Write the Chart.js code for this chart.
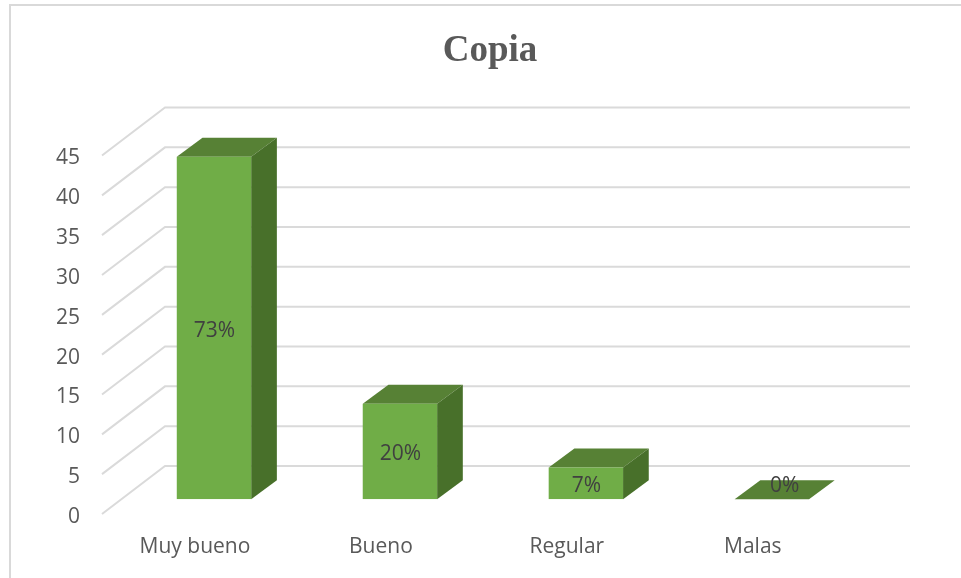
<!DOCTYPE html>
<html>
<head>
<meta charset="utf-8">
<title>Copia</title>
<script src="https://cdn.jsdelivr.net/npm/chart.js@4"></script>
<style>
html,body{margin:0;padding:0;background:#fff;overflow:hidden;width:961px;height:578px}
#marco{position:absolute;left:9px;top:4px;width:1000px;height:700px;border:2px solid #d9d9d9}
#grafico{position:absolute;left:0;top:0}
</style>
</head>
<body>
<div id="marco"><canvas id="grafico" width="958" height="572" style="width:958px;height:572px"></canvas></div>
<script>
const categorias=['Muy bueno','Bueno','Regular','Malas'];
const valores=[43,12,4,0];
const porcentajes=['73%','20%','7%','0%'];
const ticksY=[0,5,10,15,20,25,30,35,40,45];

const fuente='"Open Sans", sans-serif';

// profundidad del efecto 3D
const pared={dx:63,dy:48,finX:899};
const plano=14.7;
const barra3d={dx:25.7,dy:19};

function cara(ctx,puntos,color){
  ctx.fillStyle=color;
  ctx.beginPath();
  puntos.forEach((p,i)=>i?ctx.lineTo(p[0],p[1]):ctx.moveTo(p[0],p[1]));
  ctx.closePath();
  ctx.fill();
}

const efecto3d={
  id:'efecto3d',
  beforeDatasetsDraw(chart){
    const {ctx,scales:{y},chartArea}=chart;
    // paredes con las lineas de la grilla
    ctx.save();
    ctx.strokeStyle='#dadada';
    ctx.lineWidth=2;
    ticksY.forEach(v=>{
      const py=y.getPixelForValue(v);
      ctx.beginPath();
      ctx.moveTo(chartArea.left-19,py);
      ctx.lineTo(chartArea.left-19+pared.dx,py-pared.dy);
      ctx.lineTo(pared.finX,py-pared.dy);
      ctx.stroke();
    });
    ctx.restore();
    // las barras se apoyan a mitad del piso
    ctx.save();
    ctx.translate(0,-plano);
    chart.getDatasetMeta(0).data.forEach(b=>{
      const izq=b.x-b.width/2, der=b.x+b.width/2;
      cara(ctx,[[izq,b.y],[der,b.y],[der+barra3d.dx,b.y-barra3d.dy],[izq+barra3d.dx,b.y-barra3d.dy]],'#578135');
      if(b.base-b.y>0) cara(ctx,[[der,b.y],[der+barra3d.dx,b.y-barra3d.dy],[der+barra3d.dx,b.base-barra3d.dy],[der,b.base]],'#48702a');
    });
  },
  afterDatasetsDraw(chart){
    const {ctx}=chart;
    ctx.restore();
    // etiquetas de porcentaje
    ctx.save();
    ctx.font='21px '+fuente;
    ctx.fillStyle='#404040';
    ctx.textAlign='center';
    ctx.textBaseline='middle';
    chart.getDatasetMeta(0).data.forEach((b,i)=>{
      const alto=b.base-b.y;
      if(alto>0) ctx.fillText(porcentajes[i],b.x+0.5,(b.y+b.base)/2-plano+3);
      else ctx.fillText(porcentajes[i],b.x+barra3d.dx/2,b.y-plano-barra3d.dy+6);
    });
    ctx.restore();
  }
};

new Chart(document.getElementById('grafico'),{
  type:'bar',
  data:{
    labels:categorias,
    datasets:[{data:valores,backgroundColor:'#70ad47',borderWidth:0,barPercentage:0.4,categoryPercentage:1}]
  },
  options:{
    responsive:false,
    animation:false,
    layout:{padding:0},
    plugins:{
      legend:{display:false},
      tooltip:{enabled:false},
      title:{
        display:true,
        text:'Copia',
        color:'#595959',
        font:{family:'"Liberation Serif", serif',size:37,weight:'bold',lineHeight:1.2},
        padding:{top:23,bottom:82.1}
      }
    },
    scales:{
      x:{
        grid:{display:false,drawTicks:false},
        border:{display:false},
        afterFit(s){s.height=64;},
        ticks:{color:'#595959',font:{family:fuente,size:21},labelOffset:-19,padding:20,maxRotation:0}
      },
      y:{
        min:0,max:45,
        grid:{display:false,drawTicks:false},
        border:{display:false},
        afterFit(s){s.width=110;},
        afterBuildTicks(s){s.ticks=ticksY.map(v=>({value:v}));},
        ticks:{color:'#595959',font:{family:fuente,size:21},padding:41,labelOffset:3}
      },
      // eje vacio: reserva el margen derecho sin descentrar el titulo
      margen:{
        position:'right',
        min:0,max:45,
        grid:{display:false,drawTicks:false},
        border:{display:false},
        ticks:{display:false},
        afterFit(s){s.width=104.2;}
      }
    }
  },
  plugins:[efecto3d]
});
</script>
</body>
</html>
